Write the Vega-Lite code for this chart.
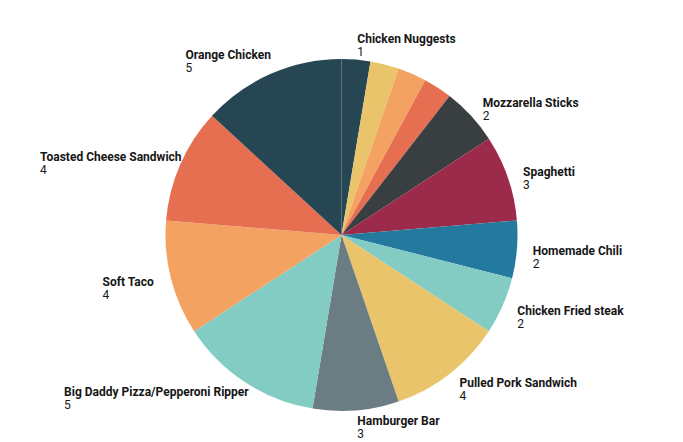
{
  "$schema": "https://vega.github.io/schema/vega-lite/v6.json",
  "autosize": {"type": "none"},
  "padding": 0,
  "width": 683,
  "height": 470,
  "background": "white",
  "config": {"view": {"stroke": null}},
  "data": {
    "values": [
      {"item": "Chicken Nuggests", "value": 1},
      {"item": "Unlabeled 1", "value": 1},
      {"item": "Unlabeled 2", "value": 1},
      {"item": "Unlabeled 3", "value": 1},
      {"item": "Mozzarella Sticks", "value": 2},
      {"item": "Spaghetti", "value": 3},
      {"item": "Homemade Chili", "value": 2},
      {"item": "Chicken Fried steak", "value": 2},
      {"item": "Pulled Pork Sandwich", "value": 4},
      {"item": "Hamburger Bar", "value": 3},
      {"item": "Big Daddy Pizza/Pepperoni Ripper", "value": 5},
      {"item": "Soft Taco", "value": 4},
      {"item": "Toasted Cheese Sandwich", "value": 4},
      {"item": "Orange Chicken", "value": 5}
    ]
  },
  "transform": [
    {"window": [{"op": "row_number", "as": "idx"}, {"op": "sum", "field": "value", "as": "cum"}]},
    {"joinaggregate": [{"op": "sum", "field": "value", "as": "total"}]},
    {"calculate": "(datum.cum - datum.value / 2) / datum.total", "as": "mid"}
  ],
  "encoding": {
    "theta": {"field": "value", "type": "quantitative", "stack": true},
    "order": {"field": "idx", "type": "quantitative"}
  },
  "layer": [
    {
      "mark": {"type": "arc", "outerRadius": 176},
      "encoding": {
        "color": {
          "field": "item",
          "type": "nominal",
          "legend": null,
          "scale": {
            "domain": ["Chicken Nuggests", "Unlabeled 1", "Unlabeled 2", "Unlabeled 3", "Mozzarella Sticks", "Spaghetti", "Homemade Chili", "Chicken Fried steak", "Pulled Pork Sandwich", "Hamburger Bar", "Big Daddy Pizza/Pepperoni Ripper", "Soft Taco", "Toasted Cheese Sandwich", "Orange Chicken"],
            "range": ["#264653", "#e9c46a", "#f4a261", "#e76f51", "#393e41", "#9c2a4a", "#23799e", "#82ccc4", "#e9c46a", "#6c7c83", "#82ccc4", "#f4a261", "#e76f51", "#264653"]
          }
        }
      }
    },
    {
      "mark": {
        "type": "text",
        "radius": 192,
        "align": "left",
        "baseline": "middle",
        "font": "Roboto",
        "fontSize": 12,
        "fontWeight": "bold",
        "color": "#161616",
        "dx": {"expr": "datum.mid > 0.5 ? -(5.2 * length(datum.item) + 6) : 0"},
        "dy": {"expr": "-5 * pow(cos(2 * PI * datum.mid), 2)"}
      },
      "encoding": {
        "text": {"condition": {"test": "indexof(datum.item, 'Unlabeled') == 0", "value": ""}, "field": "item", "type": "nominal"}
      }
    },
    {
      "mark": {
        "type": "text",
        "radius": 192,
        "align": "left",
        "baseline": "middle",
        "font": "Roboto",
        "fontSize": 12,
        "color": "#161616",
        "dx": {"expr": "datum.mid > 0.5 ? -(5.2 * length(datum.item) + 6) : 0"},
        "dy": {"expr": "13 - 5 * pow(cos(2 * PI * datum.mid), 2)"}
      },
      "encoding": {
        "text": {"condition": {"test": "indexof(datum.item, 'Unlabeled') == 0", "value": ""}, "field": "value", "type": "quantitative"}
      }
    }
  ]
}
